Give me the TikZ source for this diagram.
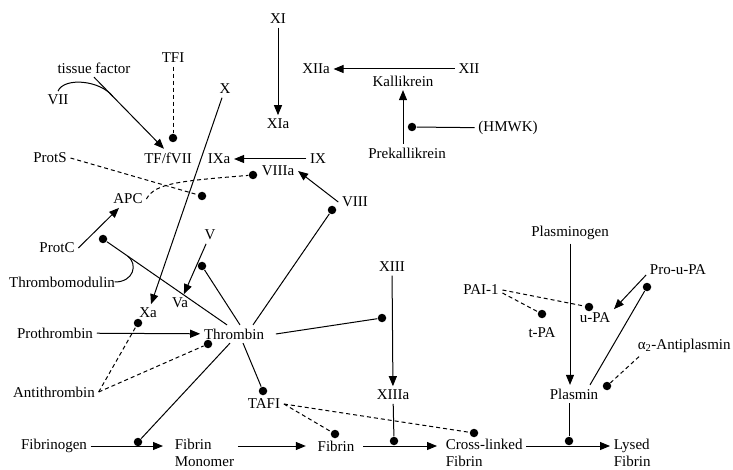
\documentclass[tikz,border=0pt]{standalone}
\usepackage{fontspec}
\setmainfont{Liberation Serif}
\usetikzlibrary{arrows.meta,calc}
\tikzset{
  dot/.style={circle, fill, inner sep=0pt, minimum size=8.5pt},
  inhib/.style={dash pattern=on 4pt off 3pt},
  twoline/.style={align=left, anchor=west, font=\fontsize{15}{17}\selectfont},
}
\begin{document}
\begin{tikzpicture}[x=1pt, y=-1pt, line width=1pt,
  >={Triangle[length=10pt,width=8pt]},
  every node/.style={font=\fontsize{15}{18}\selectfont}]
  \useasboundingbox (0,0) rectangle (733,470);
  % contact activation
  \node (xi) at (278,19) {XI};
  \node (xia) at (278,124) {XIa};
  \node (xiia) at (316,69) {XIIa};
  \node (xii) at (469,69) {XII};
  \node (kallik) at (403,81) {Kallikrein};
  \node (prekallik) at (407,153) {Prekallikrein};
  \node (hmwk) at (508,128) {(HMWK)};
  \node[dot] (dHMWK) at (412,127) {};
  \draw[->] (xi) -- (xia);
  \draw[->] (xii) -- (xiia);
  \draw[->] (prekallik.north -| kallik.south) -- (kallik.south);
  \draw (hmwk) -- (dHMWK);
  % tissue factor
  \node (tfi) at (173,58) {TFI};
  \node[dot] (dTFI) at (173,138) {};
  \node (tissue) at (94,68) {tissue factor};
  \node (vii) at (58,100) {VII};
  \node (tfvii) at (168,158) {TF/fVII};
  \draw[inhib] (tfi) -- (dTFI);
  \draw[->] (tissue.south) -- ([xshift=-4pt]tfvii.north);
  \coordinate (tfjoin) at ($(tissue.south)!0.27!([xshift=-4pt]tfvii.north)$);
  \draw (vii.north) .. controls (64,77) and (100,80) .. (tfjoin);
  % tenase
  \node (fx) at (225,89) {X};
  \node (ixa) at (219,159) {IXa};
  \node (ix) at (318,159) {IX};
  \node (viiia) at (278,171) {VIIIa};
  \node[dot] (dVIIIa) at (253,175) {};
  \node (viii) at (355,202) {VIII};
  \node[dot] (dVIII) at (332,210) {};
  \draw[->] (ix) -- (ixa);
  \draw[->] (viii.west) -- (viiia.east);
  % protein C
  \node (prots) at (50,158) {ProtS};
  \node[dot] (dProtS) at (202,196) {};
  \node (apc) at (128,199) {APC};
  \node (protc) at (57,248) {ProtC};
  \node[dot] (dProtC) at (103,239) {};
  \node (thromod) at (62,282) {Thrombomodulin};
  \draw[inhib] (prots.east) -- (dProtS);
  \draw[inhib] (apc.east) .. controls (155,183) and (180,181) .. (dVIIIa);
  \draw[->] (protc.east) -- (apc);
  % prothrombinase
  \node (fv) at (210,235) {V};
  \node (va) at (180,303) {Va};
  \node[dot] (dV) at (202,266) {};
  \node (xa) at (148,313) {Xa};
  \node[dot] (dXa) at (138,323) {};
  \node (prothr) at (55,333) {Prothrombin};
  \node (thr) at (234,334) {Thrombin};
  \node[dot] (dThr) at (208,344) {};
  \node (antithr) at (54,392) {Antithrombin};
  \draw[->] (fx) -- (xa);
  \draw[->] (fv) -- (va);
  \draw[->] (prothr) -- (thr);
  \draw (dProtC) -- ([xshift=-7pt]thr.north);
  \coordinate (tmjoin) at ($(dProtC)!0.2!([xshift=-7pt]thr.north)$);
  \draw ([xshift=-4pt]thromod.east) .. controls (134,282) and (138,264) .. (tmjoin);
  \draw (dV) -- ([xshift=6pt]thr.north);
  \draw (dVIII) -- ([xshift=19pt]thr.north);
  \draw[inhib] (antithr.east) -- (dXa);
  \draw[inhib] (antithr.east) -- (dThr);
  % fibrin formation
  \node (xiii) at (392,267) {XIII};
  \node[dot] (dXIII) at (382,318) {};
  \node (xiiia) at (393,395) {XIIIa};
  \node (tafi) at (264,404) {TAFI};
  \node[dot] (dTAFI) at (263,391) {};
  \node (fibrinogen) at (54,446) {Fibrinogen};
  \node[dot] (dFibrinogen) at (138,442) {};
  \node[twoline] (monomer) at (171,453) {Fibrin\\Monomer};
  \node (fibrin) at (336,446) {Fibrin};
  \node[dot] (dFibrin) at (335,434) {};
  \node[dot] (dXIIIa) at (394,441) {};
  \node[twoline] (crossl) at (442,453) {Cross-linked\\Fibrin};
  \node[dot] (dCross) at (474,433) {};
  \node[twoline] (lysed) at (610,453) {Lysed\\Fibrin};
  \draw ([xshift=8pt]thr.east) -- (dXIII);
  \draw ([xshift=9pt]thr.south) -- (dTAFI);
  \draw ([xshift=-4pt]thr.south) -- (dFibrinogen);
  \draw[->] (xiii) -- (xiiia);
  \draw (xiiia) -- (dXIIIa);
  \draw[inhib] (tafi.east) -- (dFibrin);
  \draw[inhib] (tafi.east) -- (dCross);
  \draw[->, shorten >=8pt] (fibrinogen.east) -- (monomer.west |- fibrinogen.east);
  \draw[->, shorten >=8pt] (monomer.east |- fibrin) -- (fibrin.west);
  \draw[->, shorten <=5pt, shorten >=5pt] (fibrin.east) -- (crossl.west |- fibrin);
  \draw[->] (crossl.east |- fibrin) -- (lysed.west |- fibrin);
  % fibrinolysis
  \node (plasminogen) at (570,233) {Plasminogen};
  \node (plasmin) at (574,394) {Plasmin};
  \node[dot] (dPlasmin) at (569,441) {};
  \node (proupa) at (678,270) {Pro-u-PA};
  \node[dot] (dProuPA) at (647,287) {};
  \node (upa) at (595,318) {u-PA};
  \node[dot] (dUPA) at (589,307) {};
  \node (tpa) at (542,333) {t-PA};
  \node[dot] (dTPA) at (542,314) {};
  \node (pai) at (481,290) {PAI-1};
  \node[anchor=west] (antipl) at (634,346) {α\textsubscript{2}-Antiplasmin};
  \node[dot] (dAntipl) at (607,386) {};
  \draw[->] (plasminogen.south) -- (plasminogen.south |- plasmin.north);
  \draw (plasmin.south -| dPlasmin) -- (dPlasmin);
  \draw[->] ([yshift=-5pt]proupa.west) -- (upa.north east);
  \draw (dProuPA) -- ([xshift=16pt]plasmin.north);
  \draw[inhib] (pai.east) -- (dUPA);
  \draw[inhib] ([yshift=-3pt]pai.east) -- (dTPA);
  \draw[inhib] ([xshift=5pt]antipl.south west) -- (dAntipl);
\end{tikzpicture}
\end{document}
